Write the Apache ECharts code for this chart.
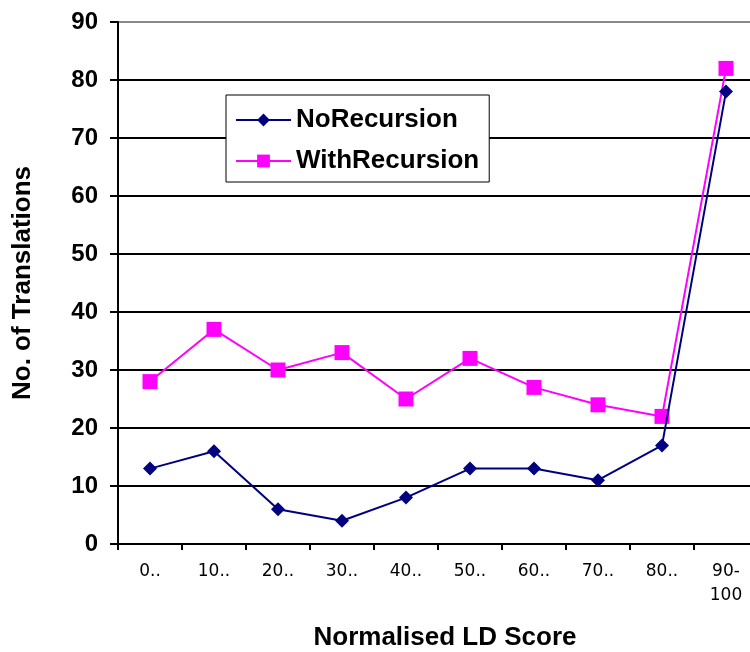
<!DOCTYPE html>
<html>
<head>
<meta charset="utf-8">
<script src="https://cdn.jsdelivr.net/npm/echarts@6/dist/echarts.min.js"></script>
<style>
  html, body { margin: 0; padding: 0; background: #fff; }
  #chart { width: 750px; height: 652px; }
</style>
</head>
<body>
<div id="chart"></div>
<script>
// Score bands on the x axis
const categories = ['0..', '10..', '20..', '30..', '40..', '50..', '60..', '70..', '80..', '90-\n100'];

// Number of translations per score band
const noRecursion   = [13, 16, 6, 4, 8, 13, 13, 11, 17, 78];
const withRecursion = [28, 37, 30, 33, 25, 32, 27, 24, 22, 82];

const yTicks = { min: 0, max: 90, interval: 10 };

const boldFont = '"Liberation Sans", Arial, sans-serif';

// Horizontal grid lines: black, with the top one grey
const gridColors = ['#000', '#000', '#000', '#000', '#000', '#000', '#000', '#000', '#000', '#8a8a8a'];

const chart = echarts.init(document.getElementById('chart'), null, { renderer: 'canvas' });

chart.setOption({
  backgroundColor: '#fff',
  animation: false,
  grid: { left: 118, top: 22, width: 640, height: 522, containLabel: false, outerBoundsMode: 'none' },
  legend: {
    orient: 'vertical',
    left: 226,
    top: 95,
    padding: [12, 10, 8, 9],
    itemGap: 15,
    itemWidth: 55,
    itemHeight: 16,
    backgroundColor: '#fff',
    borderColor: '#000',
    borderWidth: 1,
    textStyle: { fontFamily: boldFont, fontWeight: 'bold', fontSize: 26, color: '#000' },
    data: ['NoRecursion', 'WithRecursion']
  },
  xAxis: {
    type: 'category',
    data: categories,
    boundaryGap: true,
    name: 'Normalised LD Score',
    nameLocation: 'middle',
    nameGap: 79,
    nameTextStyle: { fontFamily: boldFont, fontWeight: 'bold', fontSize: 26, color: '#000', lineHeight: 30, padding: [0, 0, 0, 14] },
    axisLine: { lineStyle: { color: '#000', width: 2 } },
    axisTick: { show: true, alignWithLabel: false, length: 6, lineStyle: { color: '#000', width: 2 } },
    axisLabel: { margin: 16, fontFamily: '"DejaVu Sans", sans-serif', fontSize: 17, color: '#000', lineHeight: 24, interval: 0 },
    splitLine: { show: false }
  },
  yAxis: {
    type: 'value',
    min: yTicks.min,
    max: yTicks.max,
    interval: yTicks.interval,
    name: 'No. of Translations',
    nameLocation: 'middle',
    nameGap: 80,
    nameRotate: 90,
    nameTextStyle: { fontFamily: boldFont, fontWeight: 'bold', fontSize: 26, color: '#000', lineHeight: 30 },
    axisLine: { show: true, lineStyle: { color: '#000', width: 2 } },
    axisTick: { show: true, inside: false, length: 8, lineStyle: { color: '#000', width: 2 } },
    axisLabel: { margin: 20, fontFamily: boldFont, fontWeight: 'bold', fontSize: 24, color: '#000' },
    splitLine: { show: true, lineStyle: { color: gridColors, width: 2 } }
  },
  series: [
    {
      name: 'NoRecursion',
      type: 'line',
      data: noRecursion,
      symbol: 'diamond',
      symbolSize: 14,
      lineStyle: { color: '#000080', width: 2 },
      itemStyle: { color: '#000080' },
      z: 3
    },
    {
      name: 'WithRecursion',
      type: 'line',
      data: withRecursion,
      symbol: 'rect',
      symbolSize: 15,
      lineStyle: { color: '#ff00ff', width: 2 },
      itemStyle: { color: '#ff00ff' },
      z: 2
    }
  ]
});
</script>
</body>
</html>
